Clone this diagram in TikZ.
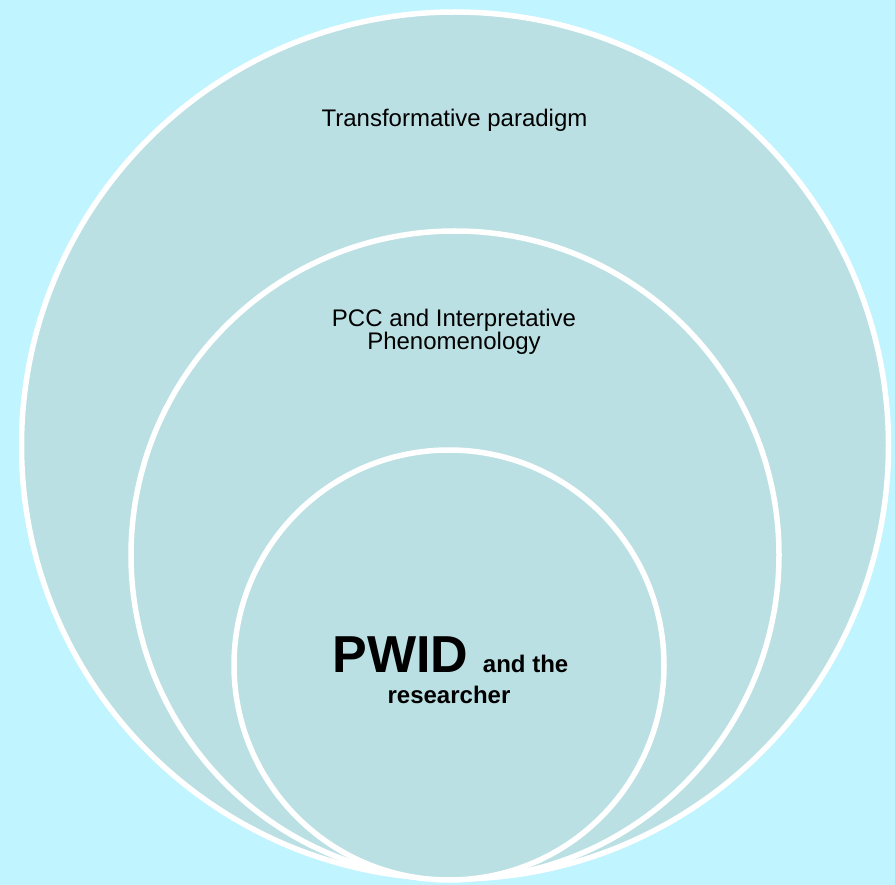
\documentclass[tikz,border=0pt]{standalone}
\usepackage{fontspec}
\setmainfont{Liberation Sans}
\definecolor{bgc}{RGB}{192,244,255}
\definecolor{ringfill}{RGB}{187,224,227}
\tikzset{
  ring/.style={draw=white, line width=5.5pt, fill=ringfill},
  lbl/.style={text=black, align=center, inner sep=0pt}
}
\begin{document}
\begin{tikzpicture}[x=1pt,y=1pt]
\fill[bgc] (0,0) rectangle (895,-885);
\useasboundingbox (0,0) rectangle (895,-885);
\path[ring] (455,-445.5) circle[radius=433.5];
\path[ring] (455,-555) circle[radius=324];
\path[ring] (449,-665) circle[radius=215];
\node[lbl, anchor=base] (outer) at (454.5,-127) {\fontsize{24}{27}\selectfont Transformative paradigm};
\node[lbl, anchor=base] (mid) at (454,-327) {\fontsize{24}{23}\selectfont PCC and Interpretative};
\node[lbl, anchor=base] (mid2) at (454,-350) {\fontsize{24}{23}\selectfont Phenomenology};
\node[lbl, anchor=base] (inner) at (450.5,-672) {\bfseries\fontsize{52}{52}\selectfont PWID\ \fontsize{24}{24}\selectfont and the};
\node[lbl, anchor=base] (inner2) at (449,-703) {\bfseries\fontsize{24}{24}\selectfont researcher};
\end{tikzpicture}
\end{document}
